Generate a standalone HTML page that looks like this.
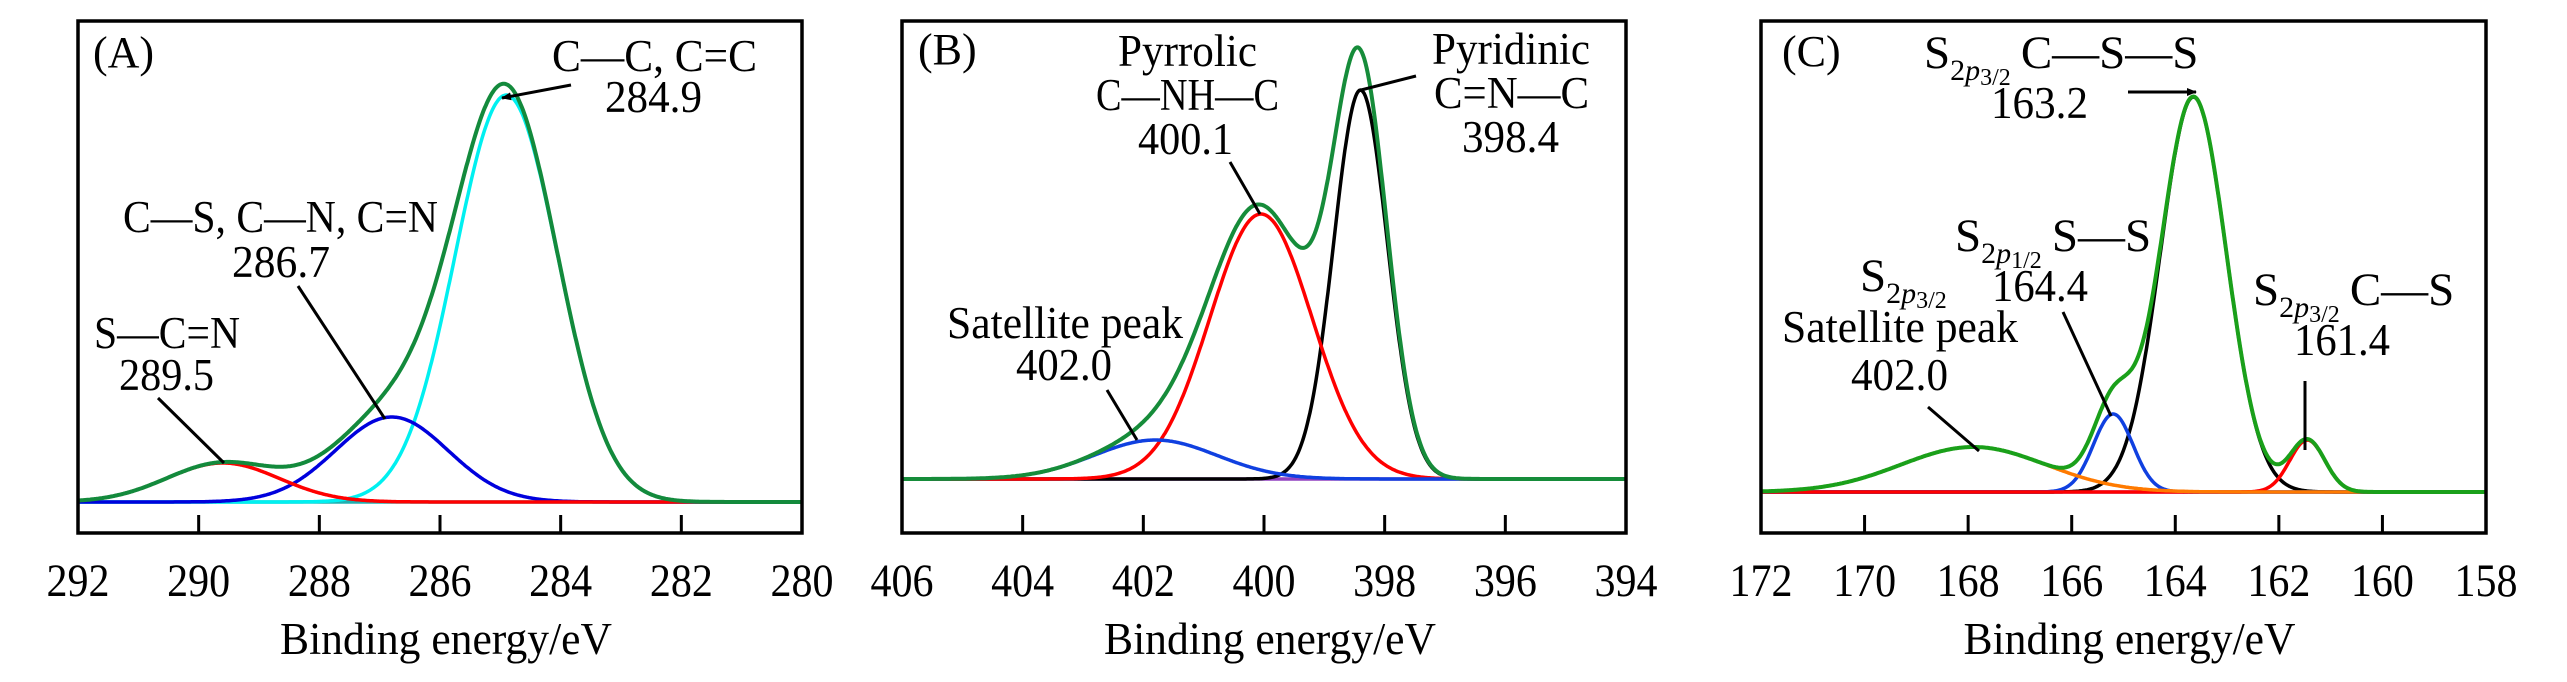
<!DOCTYPE html>
<html><head><meta charset="utf-8"><style>
html,body{margin:0;padding:0;background:#fff;}
svg{display:block;}
svg text{font-family:"Liberation Serif","DejaVu Serif",serif;fill:#000;}
</style></head><body>
<svg id="fig" width="2567" height="682" viewBox="0 0 2567 682" xmlns="http://www.w3.org/2000/svg" font-family="'Liberation Serif', 'DejaVu Serif', serif">
<defs>
<marker id="arr" markerWidth="10" markerHeight="8" refX="9" refY="4" orient="auto" markerUnits="userSpaceOnUse"><path d="M0,0 L10,4 L0,8 Z" fill="#000"/></marker>
</defs>
<g id="panels"></g>
<g>
<text x="93" y="67" font-size="44">(A)</text>
<text x="552" y="71" font-size="45" textLength="205" lengthAdjust="spacingAndGlyphs">C—C, C=C</text>
<text x="605" y="112" font-size="45" textLength="97" lengthAdjust="spacingAndGlyphs">284.9</text>
<line x1="571" y1="85" x2="502" y2="98" stroke="#000" stroke-width="3" marker-end="url(#arr)"/>
<text x="123" y="232" font-size="45" textLength="315" lengthAdjust="spacingAndGlyphs">C—S, C—N, C=N</text>
<text x="232" y="277" font-size="45" textLength="98" lengthAdjust="spacingAndGlyphs">286.7</text>
<line x1="298" y1="286" x2="385" y2="419" stroke="#000" stroke-width="3"/>
<text x="94" y="348" font-size="45" textLength="146" lengthAdjust="spacingAndGlyphs">S—C=N</text>
<text x="119" y="390" font-size="45" textLength="95" lengthAdjust="spacingAndGlyphs">289.5</text>
<line x1="158" y1="398" x2="224" y2="463" stroke="#000" stroke-width="3"/>
</g>
<g>
<text x="918" y="64" font-size="44">(B)</text>
<text x="1118" y="66" font-size="45" textLength="139" lengthAdjust="spacingAndGlyphs">Pyrrolic</text>
<text x="1096" y="110" font-size="45" textLength="183" lengthAdjust="spacingAndGlyphs">C—NH—C</text>
<text x="1138" y="154" font-size="45" textLength="95" lengthAdjust="spacingAndGlyphs">400.1</text>
<line x1="1230" y1="162" x2="1260" y2="214" stroke="#000" stroke-width="3"/>
<text x="1432" y="64" font-size="45" textLength="158" lengthAdjust="spacingAndGlyphs">Pyridinic</text>
<text x="1434" y="108" font-size="45" textLength="155" lengthAdjust="spacingAndGlyphs">C=N—C</text>
<text x="1462" y="152" font-size="45" textLength="97" lengthAdjust="spacingAndGlyphs">398.4</text>
<line x1="1416" y1="76" x2="1361" y2="90" stroke="#000" stroke-width="3"/>
<text x="947" y="338" font-size="45" textLength="236" lengthAdjust="spacingAndGlyphs">Satellite peak</text>
<text x="1016" y="380" font-size="45" textLength="96" lengthAdjust="spacingAndGlyphs">402.0</text>
<line x1="1107" y1="390" x2="1137" y2="440" stroke="#000" stroke-width="3"/>
</g>
<g>
<text x="1782" y="66" font-size="44">(C)</text>
<text x="1924" y="68" font-size="47">S<tspan font-size="30" dy="12">2</tspan><tspan font-size="30" font-style="italic">p</tspan><tspan font-size="24" dy="5">3/2</tspan><tspan dy="-17" dx="10">C—S—S</tspan></text>
<text x="1991" y="118" font-size="45" textLength="97" lengthAdjust="spacingAndGlyphs">163.2</text>
<line x1="2128" y1="92" x2="2196" y2="92" stroke="#000" stroke-width="3" marker-end="url(#arr)"/>
<text x="1955" y="251" font-size="47">S<tspan font-size="30" dy="12">2</tspan><tspan font-size="30" font-style="italic">p</tspan><tspan font-size="24" dy="5">1/2</tspan><tspan dy="-17" dx="10">S—S</tspan></text>
<text x="1992" y="301" font-size="45" textLength="96" lengthAdjust="spacingAndGlyphs">164.4</text>
<line x1="2063" y1="312" x2="2111" y2="416" stroke="#000" stroke-width="3"/>
<text x="1860" y="291" font-size="47">S<tspan font-size="30" dy="12">2</tspan><tspan font-size="30" font-style="italic">p</tspan><tspan font-size="24" dy="5">3/2</tspan></text>
<text x="1782" y="342" font-size="45" textLength="236" lengthAdjust="spacingAndGlyphs">Satellite peak</text>
<text x="1851" y="390" font-size="45" textLength="97" lengthAdjust="spacingAndGlyphs">402.0</text>
<line x1="1928" y1="407" x2="1979" y2="451" stroke="#000" stroke-width="3"/>
<text x="2253" y="305" font-size="47">S<tspan font-size="30" dy="12">2</tspan><tspan font-size="30" font-style="italic">p</tspan><tspan font-size="24" dy="5">3/2</tspan><tspan dy="-17" dx="10">C—S</tspan></text>
<text x="2294" y="355" font-size="45" textLength="96" lengthAdjust="spacingAndGlyphs">161.4</text>
<line x1="2305" y1="381" x2="2305" y2="450" stroke="#000" stroke-width="3"/>
</g>
</svg>
<script>
// Panel A: C 1s
const ticksA = [292, 290, 288, 286, 284, 282, 280];
const centersA = [284.9, 286.8, 289.6];
const ampsA = [407, 85, 39];
const fwhmA = [2.0, 2.2, 2.2];
const colorsA = ['#00f0f0', '#0000dd', '#ff0000'];
// Panel B: N 1s
const ticksB = [406, 404, 402, 400, 398, 396, 394];
const centersB = [398.4, 400.05, 401.8];
const ampsB = [389, 265, 39];
const fwhmB = [1.05, 2.0, 2.4];
const colorsB = ['#000000', '#ff0000', '#1040e0'];
// Panel C: S 2p
const ticksC = [172, 170, 168, 166, 164, 162, 160, 158];
const centersC = [163.65, 165.2, 161.45, 167.9];
const ampsC = [395, 78, 52, 45];
const fwhmC = [1.5, 0.9, 0.8, 3.3];
const colorsC = ['#000000', '#1040e0', '#ff0000', '#ff7a00'];

const NS = 'http://www.w3.org/2000/svg';
const root = document.getElementById('panels');
function mk(tag, attrs, parent){const e=document.createElementNS(NS,tag);for(const k in attrs)e.setAttribute(k,attrs[k]);parent.appendChild(e);return e;}
function gauss(e,c,a,w){const s=w/2.3548;return a*Math.exp(-((e-c)*(e-c))/(2*s*s));}

function panel(id, ticks, centers, amps, fwhm, colors, left, right, base, sumColor, baseColor){
  const top=21, bottom=533;
  const emax=ticks[0], emin=ticks[ticks.length-1];
  const xs = e => left + (emax-e)/(emax-emin)*(right-left);
  const ys = v => base - v;
  const g = mk('g',{},root);
  
  
  const bl = mk('line',{x1:left,x2:right,y1:base,y2:base,stroke:baseColor,'stroke-width':3.5},g);
  
  
  const N=600;
  const sum=new Array(N+1).fill(0);
  const es=[];
  for(let i=0;i<=N;i++) es.push(emax-(emax-emin)*i/N);
  centers.forEach((c,k)=>{
    let d='';
    es.forEach((e,i)=>{const v=gauss(e,c,amps[k],fwhm[k]);sum[i]+=v;d+=(i?'L':'M')+xs(e).toFixed(1)+','+ys(v).toFixed(1);});
    const p=mk('path',{d:d,fill:'none',stroke:colors[k],'stroke-width':3.5,'stroke-linejoin':'round'},g);
    
    
  });
  let d='';
  es.forEach((e,i)=>{d+=(i?'L':'M')+xs(e).toFixed(1)+','+ys(sum[i]).toFixed(1);});
  const env=mk('path',{d:d,fill:'none',stroke:sumColor,'stroke-width':4,'stroke-linejoin':'round'},g);
  
  
  const fr=mk('rect',{x:left,y:top,width:right-left,height:bottom-top,fill:'none',stroke:'#000','stroke-width':3.5},g);
  
  
  ticks.forEach((t,i)=>{
    const x=xs(t);
    if(i>0 && i<ticks.length-1){
      const tk=mk('line',{x1:x,x2:x,y1:bottom,y2:bottom-18,stroke:'#000','stroke-width':3},g);
      
      
    }
    const tl=mk('text',{x:x,y:596,'font-size':47,'text-anchor':'middle',textLength:63,lengthAdjust:'spacingAndGlyphs'},g);
    tl.textContent=String(t);
    
    
  });
  const ti=mk('text',{x:(left+right)/2+6,y:654,'font-size':45,'text-anchor':'middle',textLength:332,lengthAdjust:'spacingAndGlyphs'},g);
  ti.textContent='Binding energy/eV';
  
  
}
panel('a', ticksA, centersA, ampsA, fwhmA, colorsA, 78, 802, 502, '#138a3c', '#20b0b0');
panel('b', ticksB, centersB, ampsB, fwhmB, colorsB, 902, 1626, 479, '#168c3a', '#9040c0');
panel('c', ticksC, centersC, ampsC, fwhmC, colorsC, 1761, 2486, 492, '#1aa01a', '#8050d0');
</script>
</body></html>
